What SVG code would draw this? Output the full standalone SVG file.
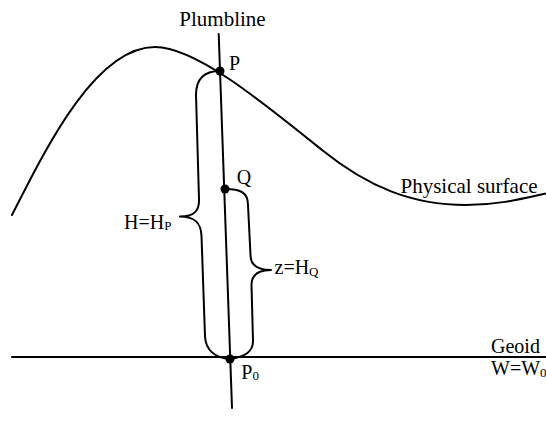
<svg xmlns="http://www.w3.org/2000/svg" width="546" height="436" viewBox="0 0 546 436">
<style>
  .ln { fill: none; stroke: #000; stroke-width: 2; stroke-linecap: round; stroke-linejoin: round; }
  .dot { fill: #000; }
</style>
<rect width="546" height="436" fill="#fff"/>
<g font-family="'Liberation Serif', 'Times New Roman', 'DejaVu Serif', serif" fill="#000">
<g id="surface">
  <path class="ln" d="M 12 215 C 45 150, 95 47, 155 47 C 195 47, 260 100, 322 150 C 368 187, 412 205, 466 205 C 500 205, 525 198, 548 193"/>
  <text font-family="Liberation Serif, serif" font-size="21" x="400.5" y="193">Physical surface</text>
</g>
<g id="geoid">
  <line class="ln" x1="12" y1="357" x2="548" y2="357"/>
  <text font-family="Liberation Serif, serif" font-size="20" x="491" y="353">Geoid</text>
  <text font-family="Liberation Serif, serif" font-size="20" x="491" y="375">W=W<tspan font-size="13" dy="2">0</tspan></text>
</g>
<g id="plumbline">
  <line class="ln" stroke-width="1.7" x1="218.7" y1="34" x2="232" y2="408"/>
  <text font-family="Liberation Serif, serif" font-size="21" x="179.3" y="26">Plumbline</text>
</g>
<g id="braces">
  <path class="ln" d="M 220 71 C 205 71, 196 78, 196 95 L 199 199 C 199.5 210, 195 216.5, 180 216.5 C 195 216.5, 201 223, 201.5 236 L 205 336 C 205.5 350, 215 358, 230 359"/>
  <path class="ln" d="M 225 189 C 240 189, 248 192, 248 205 L 250.5 255 C 250.5 265, 258 270, 271 270 C 258 270, 251.5 275, 251.5 285 L 253 341 C 253 352, 245 357, 230 359"/>
  <text font-family="Liberation Serif, serif" font-size="20" x="124" y="228.5">H=H<tspan font-size="13" dy="1">P</tspan></text>
  <text font-family="Liberation Serif, serif" font-size="20" x="274.5" y="274">z=H<tspan font-size="13" dy="2">Q</tspan></text>
</g>
<g id="P">
  <circle class="dot" cx="220" cy="71" r="4.5"/>
  <text font-family="Liberation Serif, serif" font-size="20" x="229" y="69.5">P</text>
</g>
<g id="Q">
  <circle class="dot" cx="225" cy="189" r="4.5"/>
  <text font-family="Liberation Serif, serif" font-size="20" x="236.8" y="184">Q</text>
</g>
<g id="P0">
  <circle class="dot" cx="230" cy="359" r="4.5"/>
  <text font-family="Liberation Serif, serif" font-size="20" x="241.3" y="379">P<tspan font-size="13" dy="1">0</tspan></text>
</g>
</g>
</svg>
